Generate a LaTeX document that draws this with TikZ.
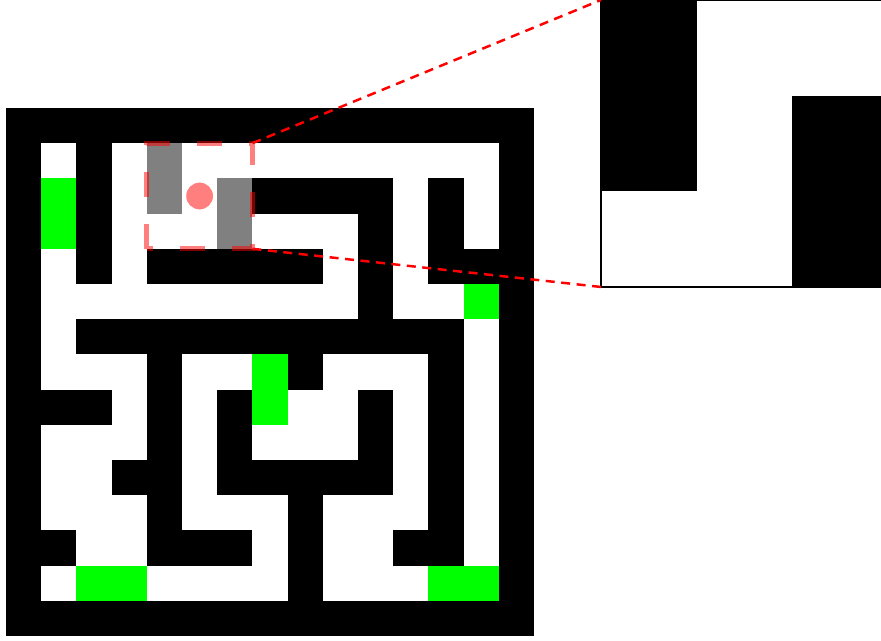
\documentclass[tikz,border=0pt]{standalone}
\usetikzlibrary{positioning,calc}
\definecolor{goalgreen}{HTML}{00FF00}
\definecolor{seengray}{HTML}{808080}
\definecolor{agentred}{HTML}{FF0000}

\begin{document}
\begin{tikzpicture}[x=0.8cm,y=-0.8cm,
        wall/.style={fill=black},
        goal/.style={fill=goalgreen},
        seen/.style={fill=seengray},
        viewbox/.style={draw=agentred,opacity=0.5,line width=3.2pt,dash pattern=on 0.568cm off 0.614cm},
        link/.style={draw=agentred,line width=1.6pt,dash pattern=on 0.205cm off 0.148cm}]
        \clip (-0.1705,-3.068) rectangle (24.858,15.114);
        % maze walls, row by row
        \foreach \r/\cs in {0/{0,...,14},1/{0,2,14},2/{0,2,7,8,9,10,12,14},3/{0,2,10,12,14},
            4/{0,2,4,5,6,7,8,10,12,13,14},5/{0,10,14},6/{0,2,3,...,12,14},7/{0,4,8,12,14},
            8/{0,1,2,4,6,10,12,14},9/{0,4,6,10,12,14},10/{0,3,4,6,7,8,9,10,12,14},
            11/{0,4,8,12,14},12/{0,1,4,5,6,8,11,12,14},13/{0,8,14},14/{0,...,14}}
          {\foreach \c in \cs {\fill[wall] (\c,\r) rectangle ++(1,1);}}
        % goals
        \foreach \c/\r in {1/2,1/3,13/5,7/7,7/8,2/13,3/13,12/13,13/13}
          {\fill[goal] (\c,\r) rectangle ++(1,1);}
        % walls in view
        \foreach \c/\r in {4/1,4/2,6/2,6/3}
          {\fill[seen] (\c,\r) rectangle ++(1,1);}
        \fill[agentred,opacity=0.5] (5.5,2.5) coordinate (agent) circle (0.38);
        % field of view
        \coordinate (vsw) at (4,4); \coordinate (vnw) at (4,1);
        \coordinate (vne) at (7,1); \coordinate (vse) at (7,4);
        \draw[viewbox] (vsw) -- (vnw) -- (vne) -- (vse) -- cycle;
        % zoomed view
        \node[draw,line width=0.8pt,inner sep=0pt,outer sep=0pt,anchor=north west,
          minimum width=6.522cm,minimum height=6.522cm] (zoom) at (16.903,-3.068) {};
        \fill[wall] (zoom.north west) rectangle ($(zoom.north west)+(2.718,5.436)$);
        \fill[wall] ($(zoom.north west)+(5.436,2.718)$) rectangle (zoom.south east);
        \draw[line width=0.8pt] (zoom.north west) rectangle (zoom.south east);
        \draw[link] (vne) -- (zoom.north west);
        \draw[link] (vse) -- (zoom.south west);
      \end{tikzpicture}
\end{document}
